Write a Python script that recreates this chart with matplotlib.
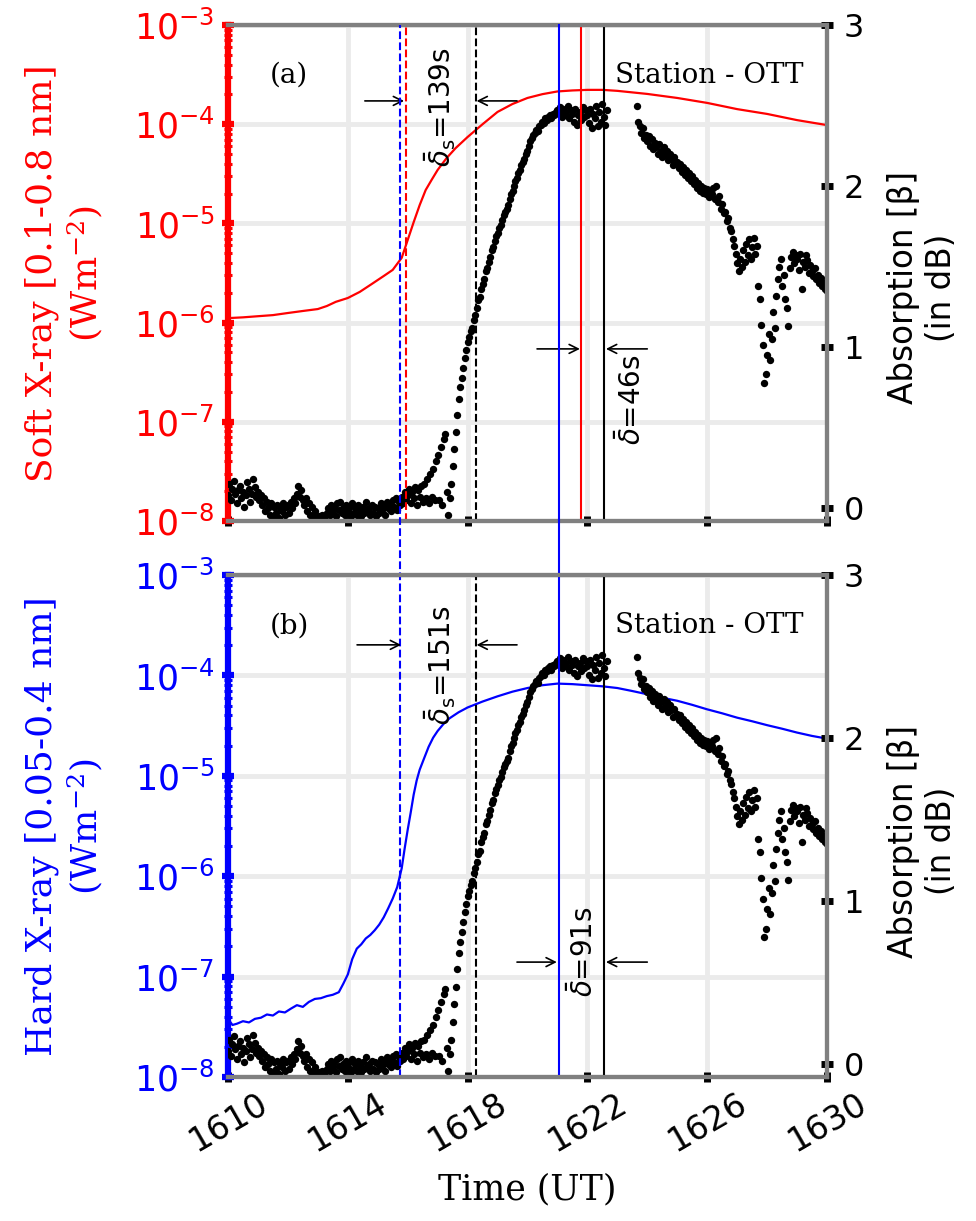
import numpy as np
import matplotlib
matplotlib.use("Agg")
import matplotlib.pyplot as plt

nan = np.nan

# GOES soft X-ray flux (0.1-0.8 nm), W m^-2
sxr_time = [1610.0, 1610.5, 1611.0, 1611.5, 1612.0, 1612.5, 1613.0, 1613.3, 1613.6,
            1614.0, 1614.4, 1614.8, 1615.2, 1615.5, 1615.8, 1616.0, 1616.2, 1616.4,
            1616.6, 1616.8, 1617.0, 1617.3, 1617.6, 1618.0, 1618.5, 1619.0, 1619.5,
            1620.0, 1620.5, 1621.0, 1621.5, 1622.0, 1622.5, 1623.0, 1624.0, 1625.0,
            1626.0, 1627.0, 1628.0, 1629.0, 1630.0]
sxr_flux = [1.11e-6, 1.13e-6, 1.16e-6, 1.19e-6, 1.25e-6, 1.31e-6, 1.37e-6, 1.47e-6, 1.62e-6,
            1.77e-6, 2.04e-6, 2.45e-6, 2.95e-6, 3.4e-6, 4.5e-6, 6.8e-6, 1.03e-5, 1.53e-5,
            2.17e-5, 2.75e-5, 3.46e-5, 4.56e-5, 5.74e-5, 7.43e-5, 1.0e-4, 1.33e-4, 1.60e-4,
            1.84e-4, 2.01e-4, 2.14e-4, 2.19e-4, 2.22e-4, 2.22e-4, 2.17e-4, 2.02e-4, 1.84e-4,
            1.64e-4, 1.42e-4, 1.27e-4, 1.10e-4, 0.98e-4]

# GOES hard X-ray flux (0.05-0.4 nm), W m^-2
hxr_time = [1610.0, 1610.15, 1610.3, 1610.5, 1610.7, 1610.9, 1611.1, 1611.3, 1611.5,
            1611.7, 1611.9, 1612.1, 1612.3, 1612.5, 1612.7, 1612.9, 1613.1, 1613.3,
            1613.5, 1613.7, 1613.85, 1614.0, 1614.15, 1614.3, 1614.45, 1614.6, 1614.75,
            1614.9, 1615.05, 1615.2, 1615.35, 1615.5, 1615.65, 1615.8, 1615.9, 1616.0,
            1616.1, 1616.2, 1616.3, 1616.4, 1616.55, 1616.7, 1616.85, 1617.0, 1617.2,
            1617.4, 1617.7, 1618.0, 1618.5, 1619.0, 1619.5, 1620.0, 1620.5, 1621.0,
            1621.5, 1622.0, 1622.5, 1623.0, 1623.5, 1624.0, 1624.5, 1625.0, 1625.5,
            1626.0, 1626.5, 1627.0, 1627.5, 1628.0, 1628.5, 1629.0, 1629.5, 1630.0]
hxr_flux = [3.8e-8, 3.3e-8, 3.4e-8, 3.6e-8, 3.5e-8, 3.8e-8, 3.9e-8, 4.2e-8, 4.1e-8,
            4.5e-8, 4.4e-8, 4.8e-8, 5.2e-8, 5.0e-8, 5.6e-8, 6.0e-8, 6.1e-8, 6.4e-8,
            6.6e-8, 7.0e-8, 8.5e-8, 1.05e-7, 1.5e-7, 1.9e-7, 2.1e-7, 2.4e-7, 2.6e-7,
            2.9e-7, 3.3e-7, 3.9e-7, 4.8e-7, 6.0e-7, 7.8e-7, 1.2e-6, 1.9e-6, 2.9e-6,
            4.3e-6, 6.5e-6, 9.0e-6, 1.15e-5, 1.5e-5, 1.95e-5, 2.4e-5, 2.8e-5, 3.3e-5,
            3.75e-5, 4.3e-5, 4.8e-5, 5.5e-5, 6.2e-5, 6.9e-5, 7.5e-5, 8.0e-5, 8.3e-5,
            8.2e-5, 8.0e-5, 7.8e-5, 7.5e-5, 7.0e-5, 6.5e-5, 6.0e-5, 5.6e-5, 5.1e-5,
            4.6e-5, 4.2e-5, 3.8e-5, 3.5e-5, 3.2e-5, 2.95e-5, 2.7e-5, 2.5e-5, 2.35e-5]

# riometer absorption at OTT (dB), one sample every 3 s, one row per minute
abs_db = [
    0.08, 0.15, 0.05, 0.12, 0.17, 0.09, 0.03, 0.11, 0.14, 0.06, 0.10, 0.01, 0.08, 0.16, 0.12, 0.04, 0.09, 0.18, 0.13, 0.07,
    0.10, 0.05, 0.08, 0.02, 0.06, -0.02, 0.04, 0.00, -0.04, 0.03, -0.05, 0.01, -0.03, 0.02, -0.06, 0.00, -0.02, 0.03, -0.04, 0.01,
    0.02, -0.03, 0.04, 0.00, 0.06, 0.03, 0.09, 0.14, 0.07, 0.11, 0.05, 0.02, 0.06, -0.02, 0.03, -0.04, 0.01, -0.05, -0.02, -0.06,
    -0.06, -0.05, -0.06, -0.04, -0.06, -0.05, -0.03, 0.00, -0.04, 0.02, -0.02, 0.01, -0.05, 0.03, -0.01, 0.04, -0.03, 0.00, -0.04, 0.02,
    -0.02, 0.01, -0.05, 0.03, -0.03, 0.00, -0.04, 0.02, -0.01, -0.05, 0.01, -0.03, 0.04, -0.02, 0.00, -0.04, 0.02, -0.03, 0.01, -0.05,
    0.00, -0.03, 0.03, -0.01, 0.02, -0.04, 0.04, 0.00, 0.03, -0.02, 0.05, 0.01, 0.06, -0.01, 0.04, 0.02, 0.07, 0.03, 0.10, 0.05,
    0.08, 0.12, 0.03, 0.10, 0.06, 0.13, 0.02, 0.11, 0.07, 0.14, 0.04, 0.15, 0.06, 0.18, 0.03, 0.21, 0.07, 0.24, 0.05, 0.29,
    0.33, 0.05, 0.38, 0.02, 0.43, 0.46, 0.10, -0.04, 0.06, 0.15, 0.26, 0.37, 0.47, 0.58, 0.68, 0.75, 0.81, 0.87, 0.93, 0.98,
    1.03, 1.06, 1.10, 1.12, 1.17, 1.20, 1.24, 1.29, 1.31, 1.36, 1.39, 1.42, 1.47, 1.49, 1.53, 1.56, 1.60, 1.62, 1.66, 1.69,
    1.71, 1.74, 1.76, 1.79, 1.82, 1.84, 1.86, 1.88, 1.92, 1.95, 1.97, 2.00, 2.03, 2.05, 2.08, 2.10, 2.13, 2.15, 2.17, 2.20,
    2.22, 2.25, 2.28, 2.30, 2.32, 2.33, 2.35, 2.34, 2.37, 2.38, 2.40, 2.39, 2.42, 2.41, 2.43, 2.44, 2.42, 2.45, 2.44, 2.46,
    2.47, 2.45, 2.49, 2.43, 2.48, 2.46, 2.44, 2.50, 2.42, 2.47, 2.45, 2.40, 2.48, 2.38, 2.44, 2.46, 2.41, 2.49, 2.43, 2.47,
    2.44, 2.39, 2.48, 2.36, 2.45, 2.42, 2.50, 2.37, 2.46, 2.40, 2.51, 2.43, 2.38, 2.47, nan, nan, nan, nan, nan, nan,
    nan, nan, nan, nan, nan, nan, nan, nan, nan, nan, nan, nan, nan, 2.50, 2.40, 2.37, 2.33, 2.36, 2.30, 2.32,
    2.28, 2.31, 2.25, 2.29, 2.23, 2.27, 2.24, 2.20, 2.26, 2.22, 2.18, 2.24, 2.19, 2.22, 2.16, 2.20, 2.17, 2.13, 2.18, 2.14,
    2.15, 2.11, 2.14, 2.09, 2.12, 2.07, 2.10, 2.05, 2.08, 2.03, 2.06, 2.01, 2.04, 1.99, 2.02, 1.97, 2.00, 1.96, 1.99, 1.95,
    1.98, 1.93, 1.97, 1.95, 1.99, 1.92, 2.00, 1.90, 1.94, 1.86, 1.89, 1.83, 1.84, 1.78, 1.80, 1.74, 1.72, 1.67, 1.63, 1.58,
    1.52, 1.47, 1.55, 1.50, 1.60, 1.53, 1.64, 1.57, 1.67, 1.55, 1.62, 1.68, 1.58, 1.63, 1.38, 1.30, 1.14, 1.01, 0.78, 0.83,
    0.95, 1.08, 0.92, 1.05, 1.22, 1.12, 1.32, 1.42, 1.50, 1.55, 1.38, 1.45, 1.30, 1.24, 1.13, 1.49, 1.56, 1.59, 1.52, 1.57,
    1.55, 1.48, 1.58, 1.36, 1.53, 1.50, 1.57, 1.54, 1.46, 1.51, 1.47, 1.44, 1.49, 1.42, 1.45, 1.40, 1.43, 1.38, 1.40, 1.36,
    1.35,
]
abs_time = 1610 + 0.05 * np.arange(len(abs_db))

# onset / peak times
t_hxr_start = 1615.76
t_sxr_start = 1615.96
t_abs_start = 1618.28
t_hxr_peak = 1621.05
t_sxr_peak = 1621.80
t_abs_peak = 1622.57

xticks = [1610, 1614, 1618, 1622, 1626, 1630]
rticks = [0, 1, 2, 3]

GRAY = "#808080"
GRID = "#ebebeb"

fig = plt.figure(figsize=(9.76, 12.21), dpi=100)
pos_top = [0.2336, 0.5733, 0.6137, 0.4062]
pos_bot = [0.2336, 0.1179, 0.6137, 0.4111]
ax_top = fig.add_axes(pos_top)
ax_bot = fig.add_axes(pos_bot)


def make_panel(ax, color, t, flux, ylabel, tag):
    ax.plot(t, flux, color=color, lw=1.6, zorder=3)
    ax.set_yscale("log")
    ax.set_ylim(1e-8, 1e-3)
    ax.set_xlim(1610, 1630)
    ax.set_xticks(xticks)
    ax.grid(True, which="major", color=GRID, lw=3.5)
    ax.set_axisbelow(True)
    for s in ["top", "bottom", "right"]:
        ax.spines[s].set_color(GRAY)
        ax.spines[s].set_linewidth(3)
    ax.spines["left"].set_color(color)
    ax.spines["left"].set_linewidth(4.5)
    ax.tick_params(axis="y", which="major", colors=color, direction="inout",
                   length=9, width=4.5, labelsize=25, pad=5)
    ax.tick_params(axis="y", which="minor", colors=color, direction="inout",
                   length=6, width=2.2)
    ax.tick_params(axis="x", colors="k", direction="inout", length=7, width=5,
                   labelsize=24)
    ax.set_ylabel(ylabel, color=color, fontsize=26, family="serif",
                  math_fontfamily="dejavuserif")
    ax.yaxis.set_label_coords(-0.205, 0.5)

    axr = ax.twinx()
    axr.plot(abs_time, abs_db, "o", color="k", ms=5.3, mew=0, zorder=2)
    axr.set_ylim(-0.08, 3)
    axr.set_yticks(rticks)
    axr.spines["left"].set_visible(False)
    for s in ["top", "bottom", "right"]:
        axr.spines[s].set_color(GRAY)
        axr.spines[s].set_linewidth(3)
    axr.tick_params(axis="y", colors="k", direction="inout", length=8, width=5,
                    labelsize=23, pad=8)
    axr.set_ylabel("Absorption [β]\n(in dB)", fontsize=23.5)
    axr.yaxis.set_label_coords(1.10, 0.47)

    axr.text(0.102, 0.899, tag, transform=ax.transAxes, family="serif",
             fontsize=20, ha="center", va="center")
    axr.text(0.803, 0.899, "Station - OTT", transform=ax.transAxes,
             family="serif", fontsize=20, ha="center", va="center")
    return axr


def arrow(axr, tail, head, y):
    axr.annotate("", xy=(head, y), xytext=(tail, y),
                 xycoords=axr.get_xaxis_transform(),
                 arrowprops=dict(arrowstyle="->", color="k", lw=1.2,
                                 shrinkA=0, shrinkB=0, mutation_scale=16))


def delay_label(axr, x, y, text):
    axr.text(x, y, text, transform=axr.get_xaxis_transform(), rotation=90,
             fontsize=20, ha="center", va="center")


r_top = make_panel(ax_top, "red", sxr_time, sxr_flux,
                   "Soft X-ray [0.1-0.8 nm]\n(Wm$^{-2}$)", "(a)")
r_bot = make_panel(ax_bot, "blue", hxr_time, hxr_flux,
                   "Hard X-ray [0.05-0.4 nm]\n(Wm$^{-2}$)", "(b)")

ax_top.tick_params(axis="x", labelbottom=False)
ax_bot.tick_params(axis="x", labelrotation=30)
ax_bot.set_xlabel("Time (UT)", family="serif", fontsize=25)
ax_bot.xaxis.set_label_coords(0.5, -0.19)

# vertical markers, top panel
r_top.axvline(t_sxr_start, color="red", ls="--", lw=1.5)
r_top.axvline(t_abs_start, color="k", ls="--", lw=1.5)
r_top.axvline(t_sxr_peak, color="red", lw=1.5)
r_top.axvline(t_abs_peak, color="k", lw=1.5)

# vertical markers, bottom panel; the blue ones run up through both panels
ext = (pos_top[1] + pos_top[3] - pos_bot[1]) / pos_bot[3]
r_bot.axvline(t_hxr_start, ymax=ext, color="blue", ls="--", lw=1.5, clip_on=False)
r_bot.axvline(t_hxr_peak, ymax=ext, color="blue", lw=1.5, clip_on=False)
r_bot.axvline(t_abs_start, color="k", ls="--", lw=1.5)
r_bot.axvline(t_abs_peak, color="k", lw=1.5)

# delay annotations
arrow(r_top, 1614.57, 1615.88, 0.847)
arrow(r_top, 1619.65, 1618.30, 0.847)
delay_label(r_top, 1617.08, 0.835, r"$\bar{\delta}_\mathrm{s}$=139s")
arrow(r_top, 1620.32, 1621.75, 0.347)
arrow(r_top, 1624.0, 1622.62, 0.347)
delay_label(r_top, 1623.49, 0.244, r"$\bar{\delta}$=46s")

arrow(r_bot, 1614.31, 1615.78, 0.861)
arrow(r_bot, 1619.65, 1618.30, 0.861)
delay_label(r_bot, 1617.08, 0.82, r"$\bar{\delta}_\mathrm{s}$=151s")
arrow(r_bot, 1619.65, 1620.98, 0.229)
arrow(r_bot, 1624.0, 1622.62, 0.229)
delay_label(r_bot, 1621.89, 0.249, r"$\bar{\delta}$=91s")

fig.savefig("out.png", dpi=100)
